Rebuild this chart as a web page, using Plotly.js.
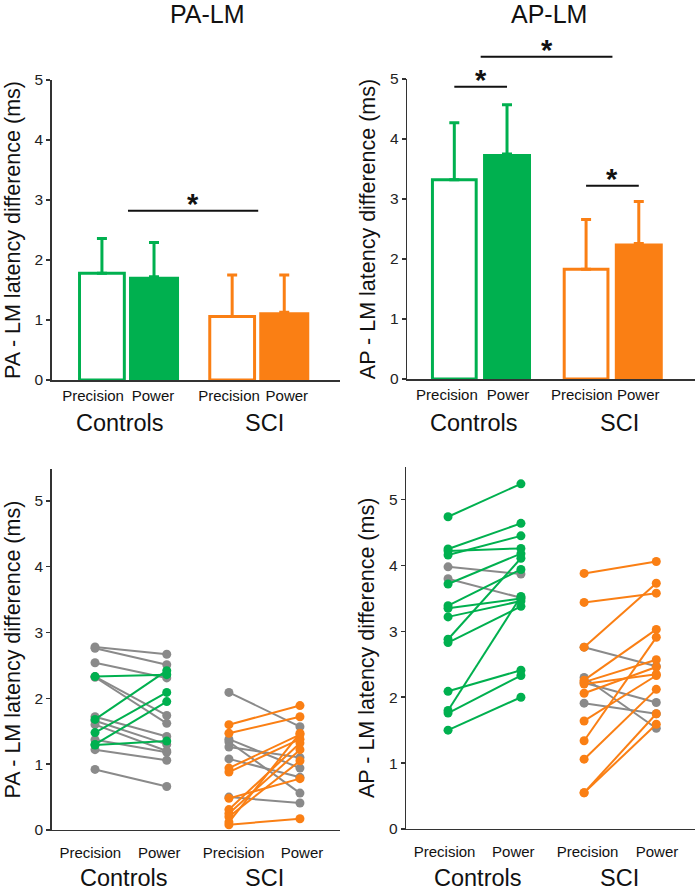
<!DOCTYPE html>
<html>
<head>
<meta charset="utf-8">
<script src="https://cdn.plot.ly/plotly-3.0.1.min.js"></script>
<style>html,body{margin:0;padding:0;background:#fff}#chart{width:696px;height:891px}</style>
</head>
<body>
<div id="chart"></div>
<script>
// ---------- DATA ----------
const barLabels = ['Precision', 'Power', 'Precision', 'Power'];
const groupLabels = ['Controls', 'SCI'];
// group means and SD (ms)
const paMeans = [1.78, 1.72, 1.06, 1.13];
const paSD    = [0.58, 0.57, 0.69, 0.62];
const apMeans = [3.32, 3.75, 1.83, 2.26];
const apSD    = [0.95, 0.82, 0.83, 0.70];

// individual subjects: [precision, power]
const paControls = [[2.78,2.67],[2.76,2.51],[2.54,2.31],[2.33,1.74],[2.32,1.62],[1.72,1.42],[1.66,1.30],[1.60,1.20],[1.37,1.18],[1.22,1.06],[0.92,0.66],
                    [2.33,2.36],[1.68,2.42],[1.48,2.09],[1.30,1.95],[1.29,1.35]];
const paSCI      = [[2.09,1.57],[1.38,0.94],[1.34,0.56],[1.26,1.10],[1.08,0.80],[0.50,0.41],
                    [1.60,1.89],[1.47,1.72],[0.94,1.45],[0.88,1.38],[0.31,1.32],[0.25,1.22],[0.20,1.05],[0.12,1.47],[0.08,0.17],[0.48,0.78]];
const apControls = [[4.74,5.24],[4.25,4.64],[4.16,4.45],[4.22,4.26],[3.72,4.18],[3.39,3.94],[3.35,3.50],[3.22,3.46],[2.88,4.11],[2.83,3.38],[2.09,2.41],[1.80,3.53],[1.76,2.33],[1.50,2.00],
                    [3.98,3.87],[3.80,3.51]];
const apSCI      = [[3.88,4.06],[3.44,3.58],[2.76,3.73],[2.26,3.03],[2.23,2.57],[2.06,2.46],[1.64,2.33],[1.34,2.91],[1.06,2.12],[0.55,1.75],[0.55,1.59],[2.20,2.35],
                    [2.76,2.47],[2.30,1.53],[2.22,1.92],[1.91,1.75]];

// significance brackets (x in bar positions, y in ms)
const paSig = [{x0:1.5, x1:4.0, y:2.82}];
const apSig = [{x0:1.0, x1:2.0, y:4.87}, {x0:1.5, x1:4.0, y:5.37}, {x0:3.5, x1:4.5, y:3.22}];

// ---------- STYLE / POSITIONS ----------
const GREEN = '#00B04F', ORANGE = '#FA7F14', GRAY = '#8A8A8A', AX = '#333333';
const FONT = 'Liberation Sans, Arial, sans-serif';
const barPos = [1, 2, 3.5, 4.5];
const dotPos = [1, 2.05, 2.96, 4];
const barColors = [GREEN, GREEN, ORANGE, ORANGE];
// where the category labels sit under each panel
const labPosTL = [0.83, 1.98, 3.44, 4.55];
const labPosTR = [0.86, 2.02, 3.42, 4.49];
const labPosBL = [0.93, 1.94, 3.03, 4.03];
const labPosBR = [0.95, 1.94, 3.01, 4.01];

const traces = [];
function addBars(means, sd, xa, ya, openW, fillW) {
  means.forEach((m, i) => {
    const open = (i % 2 === 0);
    traces.push({
      type: 'bar', x: [barPos[i]], y: [m], xaxis: xa, yaxis: ya,
      width: open ? openW : fillW,
      marker: {color: open ? '#ffffff' : barColors[i], line: {color: barColors[i], width: open ? 3 : 0}},
      error_y: {type: 'data', symmetric: false, array: [sd[i]], arrayminus: [0], color: barColors[i], thickness: 3, width: 5},
      showlegend: false, hoverinfo: 'y'
    });
  });
}
addBars(paMeans, paSD, 'x', 'y', 0.86, 0.96);
addBars(apMeans, apSD, 'x2', 'y2', 0.83, 0.91);

function addPairs(pairs, x0, x1, color, xa, ya) {
  const grayX = [], grayY = [], colX = [], colY = [];
  pairs.forEach(p => {
    if (p[1] > p[0]) { colX.push(x0, x1, null); colY.push(p[0], p[1], null); }
    else { grayX.push(x0, x1, null); grayY.push(p[0], p[1], null); }
  });
  [[grayX, grayY, GRAY], [colX, colY, color]].forEach(([xs, ys, c]) => {
    traces.push({type: 'scatter', mode: 'lines+markers', x: xs, y: ys, xaxis: xa, yaxis: ya,
      line: {color: c, width: 2}, marker: {color: c, size: 9}, showlegend: false, hoverinfo: 'y', cliponaxis: false});
  });
}
addPairs(paControls, dotPos[0], dotPos[1], GREEN, 'x3', 'y3');
addPairs(paSCI, dotPos[2], dotPos[3], ORANGE, 'x3', 'y3');
addPairs(apControls, dotPos[0], dotPos[1], GREEN, 'x4', 'y4');
addPairs(apSCI, dotPos[2], dotPos[3], ORANGE, 'x4', 'y4');

function yAx(domain, range, title) {
  return {domain: domain, range: range, showline: true, linecolor: AX, linewidth: 1.5, ticks: 'outside', ticklen: 4,
    tickcolor: AX, tickwidth: 1.5, tickfont: {family: FONT, size: 15.5, color: '#222'}, showgrid: false, zeroline: false,
    tickvals: [0,1,2,3,4,5], fixedrange: true,
    title: {text: title, font: {family: FONT, size: 21.5, color: '#111'}, standoff: 8}};
}
function xAx(domain, range, vals, standoff) {
  return {domain: domain, range: range, showline: true, linecolor: AX, linewidth: 1.5, ticks: '', showgrid: false, zeroline: false,
    tickvals: vals, ticktext: barLabels, tickangle: 0, tickfont: {family: FONT, size: 15, color: '#111'}, ticklabelstandoff: standoff, fixedrange: true};
}

const layout = {
  width: 696, height: 891, margin: {l: 0, r: 0, t: 0, b: 0},
  paper_bgcolor: '#fff', plot_bgcolor: 'rgba(0,0,0,0)', barmode: 'overlay', showlegend: false,
  font: {family: FONT},
  xaxis:  xAx([0.0743, 0.4885], [0.036, 5.57], labPosTL, 1),
  yaxis:  yAx([0.5735, 0.9102], [0, 5], 'PA - LM latency difference (ms)'),
  xaxis2: xAx([0.5852, 0.9986], [0.108, 5.567], labPosTR, 1),
  yaxis2: yAx([0.5746, 0.9113], [0, 5], 'AP - LM latency difference (ms)'),
  xaxis3: xAx([0.0743, 0.4885], [0.366, 4.586], labPosBL, 9),
  yaxis3: yAx([0.0685, 0.4733], [0, 5.48], 'PA - LM latency difference (ms)'),
  xaxis4: xAx([0.5838, 0.9986], [0.399, 4.558], labPosBR, 9),
  yaxis4: yAx([0.0696, 0.4762], [0, 5.5], 'AP - LM latency difference (ms)'),
  shapes: [], annotations: []
};
layout.yaxis.anchor = 'x'; layout.xaxis.anchor = 'y';
layout.yaxis2.anchor = 'x2'; layout.xaxis2.anchor = 'y2';
layout.yaxis3.anchor = 'x3'; layout.xaxis3.anchor = 'y3';
layout.yaxis4.anchor = 'x4'; layout.xaxis4.anchor = 'y4';

function dom(axName, v) { const r = layout[axName].range; return (v - r[0]) / (r[1] - r[0]); }
function addSig(sigs, xn, yn, xs, ys) {
  sigs.forEach(s => {
    layout.shapes.push({type: 'line', xref: xs + ' domain', yref: ys + ' domain',
      x0: dom(xn, s.x0), x1: dom(xn, s.x1), y0: dom(yn, s.y), y1: dom(yn, s.y),
      line: {color: '#111', width: 2}});
    layout.annotations.push({xref: xs + ' domain', yref: ys + ' domain', x: dom(xn, (s.x0 + s.x1) / 2), y: dom(yn, s.y),
      text: '<b>*</b>', showarrow: false, xanchor: 'center', yanchor: 'middle', yshift: 7,
      font: {family: FONT, size: 29, color: '#111'}});
  });
}
addSig(paSig, 'xaxis', 'yaxis', 'x', 'y');
addSig(apSig, 'xaxis2', 'yaxis2', 'x2', 'y2');

function paperAnn(text, px, py, size, anchor) {
  layout.annotations.push({xref: 'paper', yref: 'paper', x: px / 696, y: 1 - py / 891, text: text, showarrow: false,
    xanchor: 'center', yanchor: anchor || 'middle', borderpad: 0, font: {family: FONT, size: size, color: '#111'}});
}
paperAnn('PA-LM', 207, 14, 25);
paperAnn('AP-LM', 549, 14, 25);
paperAnn(groupLabels[0], 120, 423, 23.5); paperAnn(groupLabels[1], 264, 423, 23.5);
paperAnn(groupLabels[0], 474, 423, 23.5); paperAnn(groupLabels[1], 619, 423, 23.5);
paperAnn(groupLabels[0], 124, 892, 23.5, 'bottom'); paperAnn(groupLabels[1], 264, 892, 23.5, 'bottom');
paperAnn(groupLabels[0], 478, 892, 23.5, 'bottom'); paperAnn(groupLabels[1], 619, 892, 23.5, 'bottom');

Plotly.newPlot('chart', traces, layout, {staticPlot: true, displayModeBar: false});
</script>
</body>
</html>
